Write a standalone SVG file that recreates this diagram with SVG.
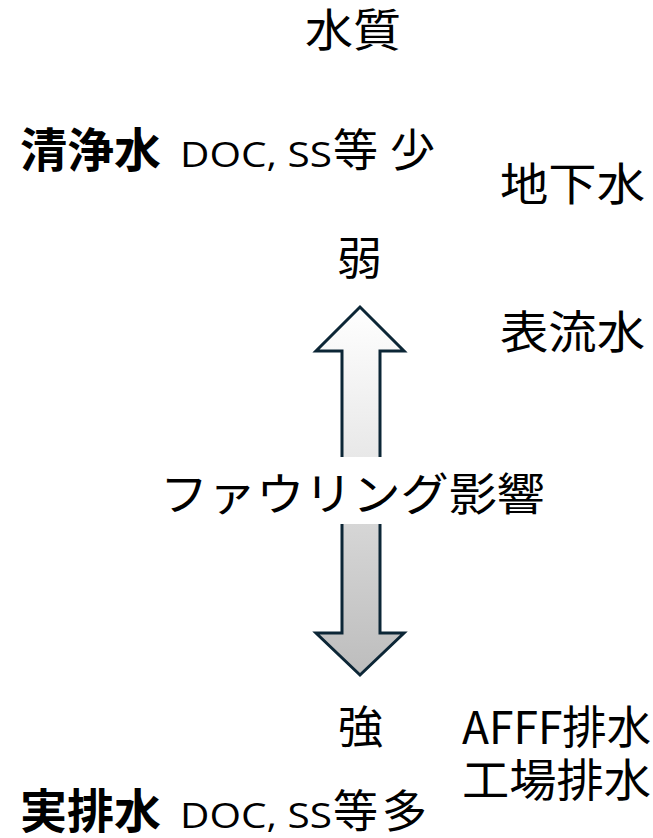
<svg xmlns="http://www.w3.org/2000/svg" width="653" height="838" viewBox="0 0 653 838">
<style>
.t{font-family:"Noto Sans CJK JP","Noto Sans",sans-serif;font-size:45px;fill:#000}
.b{font-weight:bold;font-size:47px}
.l{font-family:"Open Sans","Noto Sans",sans-serif;font-size:35px}
.ar{stroke:#0c2636;stroke-width:3;fill:none;stroke-linejoin:miter}
</style>
<defs>
<linearGradient id="gu" x1="0" y1="0" x2="0" y2="1">
<stop offset="0" stop-color="#ffffff"/>
<stop offset="1" stop-color="#e8e8e8"/>
</linearGradient>
<linearGradient id="gd" x1="0" y1="0" x2="0" y2="1">
<stop offset="0" stop-color="#d6d6d6"/>
<stop offset="1" stop-color="#bdbdbd"/>
</linearGradient>
</defs>
<g id="connectors">
<g id="arrow-up">
<polygon points="360,307 404,351 380,351 380,457 342,457 342,351 316,351" fill="url(#gu)"/>
<path class="ar" d="M342,457 L342,351 L316,351 L360,307 L404,351 L380,351 L380,457"/>
</g>
<g id="arrow-down">
<polygon points="342,524 380,524 380,633 404,633 360,675 316,633 342,633" fill="url(#gd)"/>
<path class="ar" d="M342,524 L342,633 L316,633 L360,675 L404,633 L380,633 L380,524"/>
</g>
</g>
<g id="title"><text class="t" x="305" y="47" textLength="96" lengthAdjust="spacingAndGlyphs">水質</text></g>
<g id="clean"><text class="t" y="167"><tspan class="b" x="20">清浄水</tspan><tspan class="l" x="180" textLength="152" lengthAdjust="spacingAndGlyphs">DOC, SS</tspan><tspan x="333">等</tspan><tspan x="390">少</tspan></text></g>
<g id="groundwater"><text class="t" x="500" y="201" textLength="145" lengthAdjust="spacingAndGlyphs">地下水</text></g>
<g id="weak"><text class="t" x="337" y="275">弱</text></g>
<g id="surface"><text class="t" x="500" y="349" textLength="145" lengthAdjust="spacingAndGlyphs">表流水</text></g>
<g id="fouling"><text class="t" x="160" y="511" textLength="385" lengthAdjust="spacingAndGlyphs">ファウリング影響</text></g>
<g id="strong"><text class="t" x="338" y="744">強</text></g>
<g id="afff"><text class="t" x="462" y="744" textLength="189" lengthAdjust="spacingAndGlyphs">AFFF排水</text></g>
<g id="factory"><text class="t" x="462" y="797" textLength="189" lengthAdjust="spacingAndGlyphs">工場排水</text></g>
<g id="real"><text class="t" y="828"><tspan class="b" x="20">実排水</tspan><tspan class="l" x="180" textLength="152" lengthAdjust="spacingAndGlyphs">DOC, SS</tspan><tspan x="333">等</tspan><tspan x="382">多</tspan></text></g>
</svg>
